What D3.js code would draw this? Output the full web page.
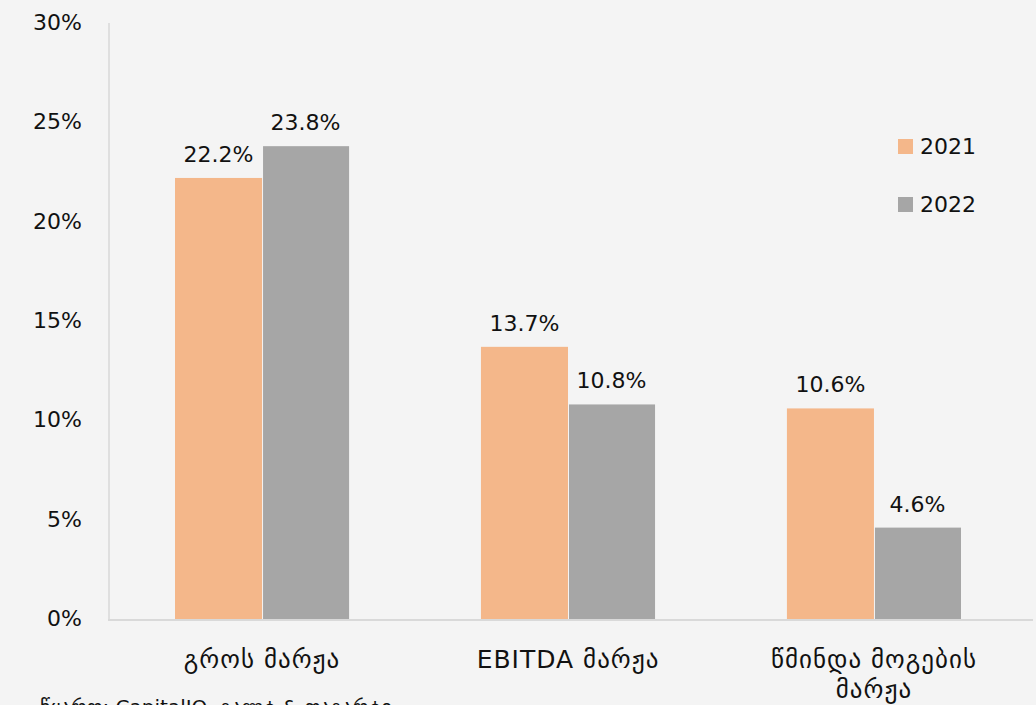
<!DOCTYPE html>
<html>
<head>
<meta charset="utf-8">
<script src="https://cdn.jsdelivr.net/npm/d3@7"></script>
<style>
  body { margin: 0; background: #f4f4f4; }
  svg text { font-family: "DejaVu Sans", sans-serif; fill: #111; }
</style>
</head>
<body>
<svg id="chart" width="1036" height="705"></svg>
<script>
// data
const categories = [['გროს მარჟა'], ['EBITDA მარჟა'], ['წმინდა მოგების', 'მარჟა']];
const years = ['2021', '2022'];
const values2021 = [22.2, 13.7, 10.6];
const values2022 = [23.8, 10.8, 4.6];
const yTicks = [0, 5, 10, 15, 20, 25, 30];
const colors = ['#f4b78a', '#a6a6a6'];

const svg = d3.select('#chart');
svg.append('rect').attr('width', 1036).attr('height', 705).attr('fill', '#f4f4f4');

const plotLeft = 109, plotRight = 1027, plotTop = 23, plotBottom = 619;

const x = d3.scaleBand()
  .domain(d3.range(categories.length))
  .range([plotLeft, plotRight])
  .paddingInner(0.431)
  .paddingOuter(0.2157);

const xs = d3.scaleBand()
  .domain(years)
  .range([0, x.bandwidth()]);

const y = d3.scaleLinear().domain([0, 30]).range([plotBottom, plotTop]);

// y axis labels
const yAxis = d3.axisLeft(y).tickValues(yTicks).tickSize(0).tickPadding(27)
  .tickFormat(d => d + '%');
const gy = svg.append('g').attr('transform', `translate(${plotLeft},0)`).call(yAxis);
gy.select('.domain').remove();
gy.selectAll('text').style('font-size', '22px').attr('dy', '0.3em')
  .style('font-family', '"DejaVu Sans", sans-serif').attr('fill', '#111');

// axis lines
svg.append('line').attr('x1', plotLeft).attr('x2', plotLeft).attr('y1', plotTop).attr('y2', plotBottom)
  .attr('stroke', '#d9d9d9').attr('stroke-width', 1.5);

const series = [values2021, values2022];

// bars
series.forEach((vals, si) => {
  svg.append('g').selectAll('rect')
    .data(vals)
    .join('rect')
    .attr('x', (d, i) => x(i) + xs(years[si]) + (si === 1 ? 1 : 0))
    .attr('width', xs.bandwidth() - (si === 1 ? 1 : 0))
    .attr('y', d => y(d))
    .attr('height', d => y(0) - y(d))
    .attr('fill', colors[si]);

  svg.append('g').selectAll('text')
    .data(vals)
    .join('text')
    .attr('x', (d, i) => x(i) + xs(years[si]) + xs.bandwidth() / 2)
    .attr('y', d => y(d) - 16)
    .attr('text-anchor', 'middle')
    .style('font-size', '22px')
    .text(d => d.toFixed(1) + '%');
});

svg.append('line').attr('x1', plotLeft - 1).attr('x2', 1033).attr('y1', plotBottom + 1).attr('y2', plotBottom + 1)
  .attr('stroke', '#d9d9d9').attr('stroke-width', 2);

// category labels
const catG = svg.append('g');
categories.forEach((lines, i) => {
  const t = catG.append('text')
    .attr('x', x(i) + x.bandwidth() / 2)
    .attr('y', 668)
    .attr('text-anchor', 'middle')
    .style('font-size', '25px')
    .style('letter-spacing', '1px');
  lines.forEach((ln, j) => {
    t.append('tspan').attr('x', x(i) + x.bandwidth() / 2).attr('dy', j ? 30 : 0).text(ln);
  });
});

// legend
const legend = svg.append('g').attr('transform', 'translate(898,139)');
years.forEach((yr, i) => {
  const g = legend.append('g').attr('transform', `translate(0,${i * 58})`);
  g.append('rect').attr('width', 15).attr('height', 15).attr('fill', colors[i]);
  g.append('text').attr('x', 22).attr('y', 8).attr('dy', '0.33em')
    .style('font-size', '22px').text(yr);
});

// source
svg.append('text').attr('x', 40).attr('y', 714)
  .style('font-size', '20px')
  .text('წყარო: CapitalIQ, გალტ & თაგარტი');
</script>
</body>
</html>
